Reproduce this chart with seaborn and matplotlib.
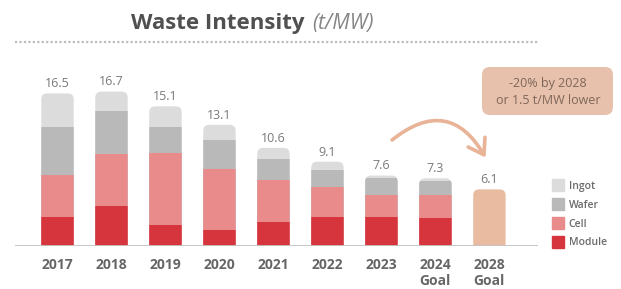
import numpy as np
import pandas as pd
import matplotlib
matplotlib.use("Agg")
import matplotlib.pyplot as plt
import seaborn as sns
from matplotlib.patches import FancyBboxPatch, FancyArrowPatch
from matplotlib.lines import Line2D

# ---- data ----
years = ["2017", "2018", "2019", "2020", "2021", "2022", "2023", "2024\nGoal", "2028\nGoal"]
module = [3.1, 4.3, 2.2, 1.7, 2.6, 3.1, 3.1, 3.0, 0]
cell = [4.6, 5.6, 7.8, 6.6, 4.5, 3.3, 2.4, 2.5, 0]
wafer = [5.2, 4.7, 2.9, 3.1, 2.3, 1.8, 1.8, 1.5, 0]
ingot = [3.6, 2.1, 2.2, 1.7, 1.2, 0.9, 0.3, 0.3, 0]
goal = [0, 0, 0, 0, 0, 0, 0, 0, 6.1]
totals = [16.5, 16.7, 15.1, 13.1, 10.6, 9.1, 7.6, 7.3, 6.1]
segments = ["Ingot", "Wafer", "Cell", "Module"]

colors = {"Ingot": "#dcdcdc", "Wafer": "#b9b9b9", "Cell": "#e98b8b", "Module": "#d7353e"}
goal_color = "#e9bba1"

sns.set_theme(style="white")
plt.rcParams["font.family"] = ["Open Sans", "DejaVu Sans"]

W, H = 621, 289
fig = plt.figure(figsize=(W / 100, H / 100), dpi=100)
base_px = 245.7
top_px = 60
ax = fig.add_axes([15 / W, (H - base_px) / H, 523 / W, (base_px - top_px) / H])

df = pd.DataFrame({"year": years, "module": module, "cell": cell, "wafer": wafer,
                   "ingot": ingot, "goal": goal})
df["l_module"] = df["module"]
df["l_cell"] = df["l_module"] + df["cell"]
df["l_wafer"] = df["l_cell"] + df["wafer"]
df["l_ingot"] = df["l_wafer"] + df["ingot"]

px_per_y = 9.23


def draw(col, color):
    n0 = len(ax.patches)
    sns.barplot(data=df, x="year", y=col, color=color, width=0.6, saturation=1,
                errorbar=None, ax=ax, zorder=2)
    return list(ax.patches[n0:])


top_ingot = draw("l_ingot", colors["Ingot"])
top_goal = draw("goal", goal_color)
lay_wafer = draw("l_wafer", colors["Wafer"])
lay_cell = draw("l_cell", colors["Cell"])
lay_module = draw("l_module", colors["Module"])

ax.set_xlim(-0.787, 8.9)
ax.set_ylim(0, (base_px - top_px) / px_per_y)

# aspect for rounding
p0 = ax.transData.transform((0, 0))
p1 = ax.transData.transform((1, 1))
asp = (p1[0] - p0[0]) / (p1[1] - p0[1])
r = 0.11  # x-data units


def roundify(p):
    x0, w, h = p.get_x(), p.get_width(), p.get_height()
    if h <= 0:
        p.remove()
        return None
    ext = r * asp
    fb = FancyBboxPatch((x0, -ext), w, h + ext,
                        boxstyle=f"round,pad=0,rounding_size={r}",
                        mutation_aspect=asp, fc=p.get_facecolor(), ec="none", zorder=2)
    p.remove()
    ax.add_patch(fb)
    return fb


rounded = []
for pi, pg in zip(top_ingot, top_goal):
    a = roundify(pi)
    b = roundify(pg)
    rounded.append(a if a is not None else b)

for layer in (lay_wafer, lay_cell, lay_module):
    for p, rp in zip(layer, rounded):
        p.set_zorder(3)
        p.set_edgecolor("none")
        if rp is not None:
            p.set_clip_path(rp)

# value labels
for i, t in enumerate(totals):
    ax.text(i, t + 1.05, f"{t}", ha="center", va="center", fontsize=9, color="#7a7a7a")

# baseline
ax.axhline(0, color="#c4c4c4", lw=1.3, zorder=4)
sns.despine(ax=ax, left=True, bottom=True, top=True, right=True)
ax.set_yticks([])
ax.set_xlabel("")
ax.set_ylabel("")
ax.tick_params(axis="x", length=0, pad=8.5)
for lab in ax.get_xticklabels():
    lab.set_fontweight("bold")
    lab.set_fontsize(10)
    lab.set_color("#666666")
    lab.set_linespacing(1.2)

# arrow
arrow = FancyArrowPatch(posA=((390 - 57.5) / 54, (base_px - 141.7) / px_per_y),
                        posB=((487 - 57.5) / 54, (base_px - 160) / px_per_y),
                        connectionstyle="arc3,rad=-0.6",
                        arrowstyle="->,head_length=0.75,head_width=0.5",
                        mutation_scale=14, lw=2.6, color="#e8b396",
                        capstyle="round", joinstyle="round", zorder=5, clip_on=False)
ax.add_patch(arrow)

# title
fig.text(131 / W, 1 - 29 / H, "Waste Intensity", fontsize=16, fontweight="bold",
         color="#505050", va="baseline", ha="left")
fig.text(312 / W, 1 - 29 / H, "(t/MW)", fontsize=15, fontstyle="italic",
         color="#858585", va="baseline", ha="left")

# dotted rule
fig.add_artist(Line2D([15 / W, 538 / W], [1 - 42 / H, 1 - 42 / H], transform=fig.transFigure,
                      color="#bdbdbd", lw=1.6, dashes=(1.0, 1.0)))

# goal box
fig.add_artist(FancyBboxPatch((482 / W, 1 - 115 / H), 131 / W, 48 / H,
                              boxstyle=f"round,pad=0,rounding_size={8 / W}",
                              mutation_aspect=W / H, transform=fig.transFigure,
                              fc="#e8c1ad", ec="none"))
fig.text(548 / W, 1 - 83 / H, "-20% by 2028", fontsize=9, color="#7d6659",
         ha="center", va="center")
fig.text(548 / W, 1 - 100 / H, "or 1.5 t/MW lower", fontsize=9, color="#7d6659",
         ha="center", va="center")

# legend
handles = [Line2D([], [], marker="s", linestyle="none", markersize=8,
                  markerfacecolor=colors[s], markeredgecolor=colors[s]) for s in segments]
leg = ax.legend(handles, segments, loc="upper left",
                bbox_to_anchor=(553 / W, 1 - 181 / H), bbox_transform=fig.transFigure,
                frameon=False, fontsize=7.5, labelspacing=0.75, handletextpad=0.5,
                handlelength=1.0, borderpad=0, borderaxespad=0)
for t in leg.get_texts():
    t.set_color("#6a6a6a")
    t.set_fontweight("semibold")

fig.savefig("out.png", dpi=100)
